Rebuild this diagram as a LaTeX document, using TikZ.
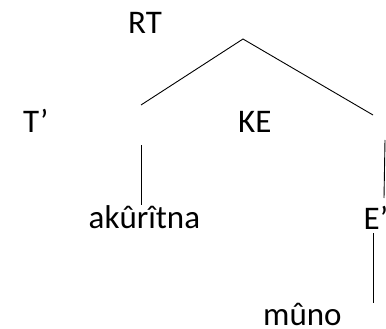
\documentclass[tikz,border=0pt]{standalone}
\usepackage{fontspec}
\setmainfont{Carlito}
\usepackage{tikz}
\newcommand{\lblsize}{\fontsize{33pt}{39pt}\selectfont}

\begin{document}
\begin{tikzpicture}[x=1pt, y=-1pt,
    lbl/.style={anchor=base west, inner sep=0pt, font=\lblsize},
    branch/.style={line width=0.9pt}]
            \useasboundingbox (0,0) rectangle (386,329);

            % labels
            \node[lbl] (rt) at (128, 34) {RT};
            \node[lbl] (tp) at (23, 132) {T’};
            \node[lbl] (ke) at (238, 132) {KE};
            \node[lbl] (akuritna) at (88.5, 228) {akûrîtna};
            \node[lbl] (ep) at (363.5, 229) {E’};
            \node[lbl] (muno) at (263, 325) {mûno};

            % branch points
            \coordinate (apex) at (243, 39);
            \coordinate (lend) at (141, 105);
            \coordinate (rend) at (373, 115);
            \coordinate (ltop) at (141, 145);
            \coordinate (rtop) at (385, 140);
            \coordinate (rbot) at (384, 198);
            \coordinate (etop) at (373, 233);

            \draw[branch] (lend) -- (apex) -- (rend);
            \draw[branch] (ltop) -- (ltop |- akuritna.north);
            \draw[branch] (rtop) -- (rbot);
            \draw[branch] (etop) -- (etop |- muno.north);
        \end{tikzpicture}
\end{document}
